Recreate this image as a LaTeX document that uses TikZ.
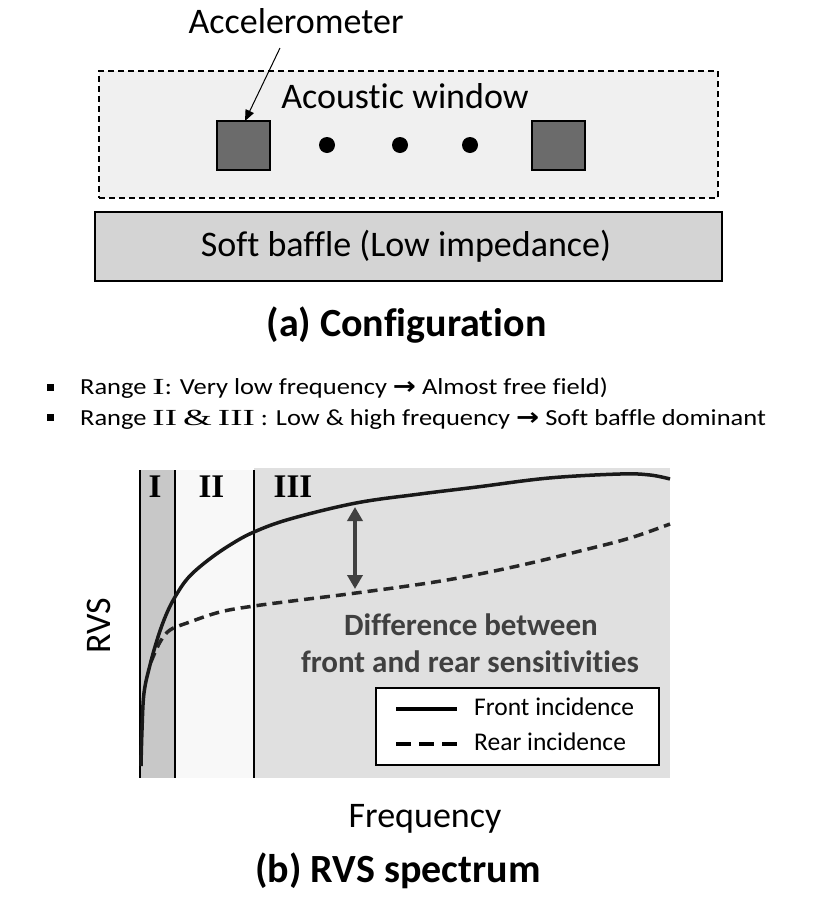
\documentclass[tikz,border=0pt]{standalone}
\usepackage{fontspec}
\setmainfont{Carlito}[Ligatures=NoCommon]
\newfontfamily\romanfont{Liberation Serif}
\newfontfamily\arrowfont{DejaVu Sans}
\usetikzlibrary{arrows.meta}
\definecolor{winfill}{HTML}{F0F0F0}
\definecolor{bafflefill}{HTML}{D4D4D4}
\definecolor{sqfill}{HTML}{6B6B6B}
\definecolor{regI}{HTML}{C8C8C8}
\definecolor{regII}{HTML}{F8F8F8}
\definecolor{regIII}{HTML}{E0E0E0}
\definecolor{difftext}{HTML}{404040}
\newcommand{\fsz}[1]{\fontsize{#1}{#1}\selectfont}
\newcommand{\bigarrow}{{\fontsize{24}{24}\arrowfont\bfseries →}}
\newcommand{\rmn}[1]{{\romanfont\scalebox{1.4}[1]{#1}}}
\newcommand{\widetxt}[1]{\scalebox{1.15}[1]{#1}}
\tikzset{
  sqbox/.style={draw, line width=1.2pt, fill=sqfill, minimum width=53pt, minimum height=49pt, inner sep=0pt},
  dotmark/.style={circle, fill=black, minimum size=16pt, inner sep=0pt},
  bigtxt/.style={font=\fsz{36}, inner sep=0pt},
  boldtxt/.style={font=\fsz{40}\bfseries, inner sep=0pt},
  bullettxt/.style={font=\fsz{23}, inner sep=0pt, anchor=base west},
  bulletsq/.style={fill=black, minimum size=7pt, inner sep=0pt},
  romanlbl/.style={font=\fsz{33}\romanfont\bfseries, inner sep=0pt, anchor=base},
  vline/.style={line width=1.5pt},
  frontcurve/.style={line width=3.5pt, color=black!90},
  rearcurve/.style={line width=3.5pt, color=black!85, dash pattern=on 10pt off 6pt},
  legtxt/.style={font=\fsz{25.5}, inner sep=0pt, anchor=base west},
}
\begin{document}
\begin{tikzpicture}[x=1pt,y=-1pt]
\useasboundingbox (0,0) rectangle (819,900);
\fill[white] (0,0) rectangle (819,900);

% ---------- (a) configuration ----------
\node[draw, fill=winfill, line width=1.2pt, dash pattern=on 6pt off 4pt,
      minimum width=619pt, minimum height=127pt, inner sep=0pt] (win) at (408.5,134.5) {};
\node[draw, fill=bafflefill, line width=1.5pt,
      minimum width=627pt, minimum height=69pt, inner sep=0pt] (baffle) at (408.5,246.5) {};
\node[bigtxt] (baffletxt) at (406,246) {Soft baffle (Low impedance)};

\node[bigtxt, anchor=base] (acoustic) at (405,108) {Acoustic window};
\node[bigtxt, anchor=base] (accl) at (296,33) {Accelerometer};

\node[sqbox] (sq1) at (243.5,145.5) {};
\node[sqbox] (sq2) at (558.5,145.5) {};
\node[dotmark] (d1) at (327,145) {};
\node[dotmark] (d2) at (400,145) {};
\node[dotmark] (d3) at (470,145) {};

\coordinate (astart) at (280,48);
\coordinate (aend) at (245,121);
\draw[line width=1pt, -{Triangle[length=11pt,width=9pt]}] (astart) -- (aend);

\node[boldtxt, anchor=base] (capA) at (406.5,336) {(a) Configuration};

% ---------- bullets ----------
\node[bulletsq] (b1) at (50,387) {};
\node[bulletsq] (b2) at (50,417) {};
\node[bullettxt] (t1) at (80,394) {\widetxt{Range \rmn{I}: Very low frequency \bigarrow{} Almost free field)}};
\node[bullettxt] (t2) at (80,425) {\widetxt{Range \rmn{II}~\rmn{\&}~\rmn{III} : Low \& high frequency \bigarrow{} Soft baffle dominant}};

% ---------- (b) chart ----------
\fill[regIII] (254,468) rectangle (670,778);
\fill[regII] (175,470) rectangle (254,778);
\fill[regI] (140,470) rectangle (175,778);
\draw[vline] (140,470) -- (140,778);
\draw[vline] (175,470) -- (175,778);
\draw[vline] (254,470) -- (254,778);

\node[romanlbl] (rI) at (155,497) {I};
\node[romanlbl] (rII) at (211.5,497) {II};
\node[romanlbl] (rIII) at (293,497) {III};

\draw[rearcurve] plot[smooth, tension=0.6] coordinates {
 (151,662) (160,642) (170,630) (187,623) (220,612) (254,606) (300,600)
 (356,593) (441,581) (513,567) (584,550) (630,538) (670,524)};
\draw[frontcurve] plot[smooth, tension=0.6] coordinates {
 (141,766) (142,730) (144,693) (150,665) (158,637) (166,615) (175,597)
 (188,578) (207,561) (230,545) (254,532) (290,519) (356,503) (420,494)
 (477,487) (549,478) (620,474) (650,475) (670,479)};

\coordinate (dtop) at (355,507);
\coordinate (dbot) at (355,589);
\draw[line width=4pt, color=difftext, {Triangle[length=14pt,width=15pt]}-{Triangle[length=14pt,width=15pt]}] (dtop) -- (dbot);

\node[font=\fsz{31}\bfseries, text=difftext, inner sep=0pt, anchor=base] (diff1) at (471,635) {Difference between};
\node[font=\fsz{31}\bfseries, text=difftext, inner sep=0pt, anchor=base] (diff2) at (470,672) {front and rear sensitivities};

% legend
\node[draw, fill=white, line width=1.5pt, minimum width=283pt, minimum height=77pt, inner sep=0pt] (legend) at (517.5,726.5) {};
\coordinate (ls1) at (396,709);
\coordinate (le1) at (457,709);
\coordinate (ls2) at (396,744);
\coordinate (le2) at (457,744);
\draw[line width=4pt] (ls1) -- (le1);
\draw[line width=4pt, dash pattern=on 15pt off 8pt] (ls2) -- (le2);
\node[legtxt] (lt1) at (474,715) {Front incidence};
\node[legtxt] (lt2) at (474,750) {Rear incidence};

\node[bigtxt, rotate=90] (rvs) at (99,626) {RVS};
\node[bigtxt, anchor=base] (freq) at (425,827) {Frequency};
\node[boldtxt, anchor=base] (capB) at (398,882) {(b) RVS spectrum};
\end{tikzpicture}
\end{document}
